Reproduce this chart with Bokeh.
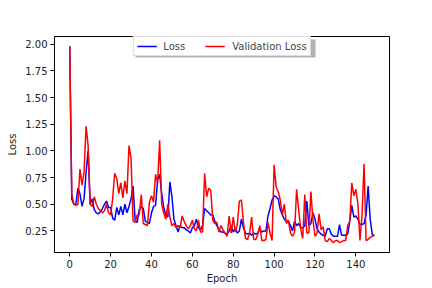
from bokeh.plotting import figure
from bokeh.models import Range1d, FixedTicker, Legend, LegendItem, NumeralTickFormatter, BoxAnnotation
from bokeh.embed import file_html
from bokeh.resources import INLINE

epochs = list(range(150))

loss = [
    1.98, 0.55, 0.50, 0.50, 0.65, 0.60, 0.48, 0.55, 0.80, 1.00,
    0.50, 0.55, 0.45, 0.42, 0.41, 0.43, 0.46, 0.50, 0.53, 0.47,
    0.47, 0.37, 0.35, 0.47, 0.40, 0.48, 0.40, 0.50, 0.42, 0.48,
    0.55, 0.67, 0.35, 0.33, 0.45, 0.48, 0.46, 0.34, 0.33, 0.32,
    0.42, 0.48, 0.49, 0.73, 0.78, 0.60, 0.47, 0.40, 0.38, 0.71,
    0.57, 0.36, 0.30, 0.24, 0.30, 0.28, 0.28, 0.26, 0.25, 0.23,
    0.28, 0.30, 0.36, 0.28, 0.26, 0.30, 0.46, 0.44, 0.42, 0.40,
    0.40, 0.34, 0.30, 0.26, 0.24, 0.24, 0.23, 0.22, 0.25, 0.30,
    0.24, 0.27, 0.23, 0.25, 0.36, 0.28, 0.23, 0.22, 0.23, 0.21,
    0.23, 0.22, 0.23, 0.27, 0.24, 0.25, 0.25, 0.39, 0.46, 0.54,
    0.58, 0.57, 0.55, 0.45, 0.40, 0.36, 0.34, 0.34, 0.30, 0.25,
    0.34, 0.30, 0.32, 0.28, 0.28, 0.30, 0.53, 0.30, 0.32, 0.42,
    0.36, 0.27, 0.24, 0.22, 0.21, 0.20, 0.27, 0.27, 0.22, 0.20,
    0.20, 0.20, 0.31, 0.21, 0.21, 0.21, 0.22, 0.34, 0.49, 0.38,
    0.39, 0.36, 0.31, 0.31, 0.32, 0.40, 0.67, 0.36, 0.22, 0.20,
]

val_loss = [
    1.98, 0.60, 0.50, 0.49, 0.50, 0.83, 0.68, 0.80, 1.23, 1.05,
    0.50, 0.48, 0.57, 0.50, 0.46, 0.44, 0.42, 0.44, 0.50, 0.42,
    0.40, 0.55, 0.79, 0.74, 0.60, 0.70, 0.56, 0.72, 0.60, 1.05,
    0.93, 0.34, 0.33, 0.40, 0.40, 0.59, 0.32, 0.31, 0.30, 0.52,
    0.58, 0.52, 0.78, 0.70, 1.10, 0.50, 0.42, 0.36, 0.50, 0.38,
    0.30, 0.32, 0.28, 0.30, 0.28, 0.39, 0.34, 0.30, 0.27, 0.30,
    0.35, 0.27, 0.25, 0.35, 0.24, 0.24, 0.79, 0.57, 0.65, 0.63,
    0.35, 0.32, 0.33, 0.24, 0.30, 0.26, 0.23, 0.20, 0.39, 0.23,
    0.38, 0.24, 0.31, 0.53, 0.54, 0.33, 0.18, 0.17, 0.23, 0.38,
    0.17, 0.17, 0.22, 0.30, 0.16, 0.16, 0.17, 0.33, 0.23, 0.16,
    0.87, 0.66, 0.62, 0.54, 0.40, 0.50, 0.32, 0.35, 0.23, 0.20,
    0.24, 0.64, 0.45, 0.27, 0.18, 0.59, 0.23, 0.23, 0.62, 0.35,
    0.20, 0.23, 0.41, 0.26, 0.29, 0.16, 0.15, 0.18, 0.16, 0.14,
    0.16, 0.16, 0.14, 0.15, 0.16, 0.16, 0.30, 0.34, 0.70, 0.58,
    0.64, 0.50, 0.16, 0.40, 0.88, 0.16, 0.17, 0.19, 0.20, 0.22,
]

x_ticks = [0, 20, 40, 60, 80, 100, 120, 140]
y_ticks = [0.25, 0.50, 0.75, 1.00, 1.25, 1.50, 1.75, 2.00]

FONT = "DejaVu Sans"

# matplotlib-like 5% margins derived from data
x_lo, x_hi = min(epochs), max(epochs)
x_pad = 0.05 * (x_hi - x_lo)
all_vals = loss + val_loss
y_lo, y_hi = min(all_vals), max(all_vals)
y_pad = 0.05 * (y_hi - y_lo)

p = figure(
    width=432, height=288,
    output_backend="svg", toolbar_location=None,
    x_range=Range1d(x_lo - x_pad, x_hi + x_pad),
    y_range=Range1d(y_lo - y_pad, y_hi + y_pad),
    min_border_left=54, min_border_right=43,
    min_border_top=36, min_border_bottom=36,
)

p.xgrid.visible = False
p.ygrid.visible = False
p.outline_line_color = "black"
p.outline_line_width = 1
p.background_fill_color = "white"
p.border_fill_color = "white"

r1 = p.line(epochs, loss, line_color="#0000ff", line_width=1.5)
r2 = p.line(epochs, val_loss, line_color="#ff0000", line_width=1.5)

for ax in (p.xaxis[0], p.yaxis[0]):
    ax.axis_line_color = "black"
    ax.major_tick_line_color = "black"
    ax.major_tick_out = 4
    ax.major_tick_in = 0
    ax.minor_tick_line_color = None
    ax.major_label_text_font = FONT
    ax.major_label_text_font_size = "10px"
    ax.major_label_text_color = "#222222"
    ax.axis_label_text_font = FONT
    ax.axis_label_text_font_size = "10px"
    ax.axis_label_text_font_style = "normal"
    ax.axis_label_text_color = "#222222"

p.xaxis.ticker = FixedTicker(ticks=x_ticks)
p.yaxis.ticker = FixedTicker(ticks=y_ticks)
p.yaxis.formatter = NumeralTickFormatter(format="0.00")
p.xaxis.axis_label = "Epoch"
p.yaxis.axis_label = "Loss"
p.xaxis.major_label_standoff = 3
p.xaxis.axis_label_standoff = 2
p.yaxis.major_label_standoff = 3
p.yaxis.axis_label_standoff = 4

# legend drop shadow (screen units, like matplotlib's shadow=True)
shadow = BoxAnnotation(
    left=81, right=261, top=213, bottom=195,
    left_units="screen", right_units="screen",
    top_units="screen", bottom_units="screen",
    fill_color="#808080", fill_alpha=0.6, line_color=None, level="overlay",
)
p.add_layout(shadow)

legend = Legend(
    items=[LegendItem(label="Loss", renderers=[r1]),
           LegendItem(label="Validation Loss", renderers=[r2])],
    location="top_center", orientation="horizontal",
    label_text_font=FONT, label_text_font_size="10px",
    glyph_width=20, glyph_height=12, label_height=12,
    label_standoff=7, spacing=20, padding=3, margin=0,
    border_line_color="#bbbbbb", border_line_width=1,
    background_fill_color="white", background_fill_alpha=1.0,
)
p.add_layout(legend)

open("out.html", "w").write(file_html(p, INLINE))
